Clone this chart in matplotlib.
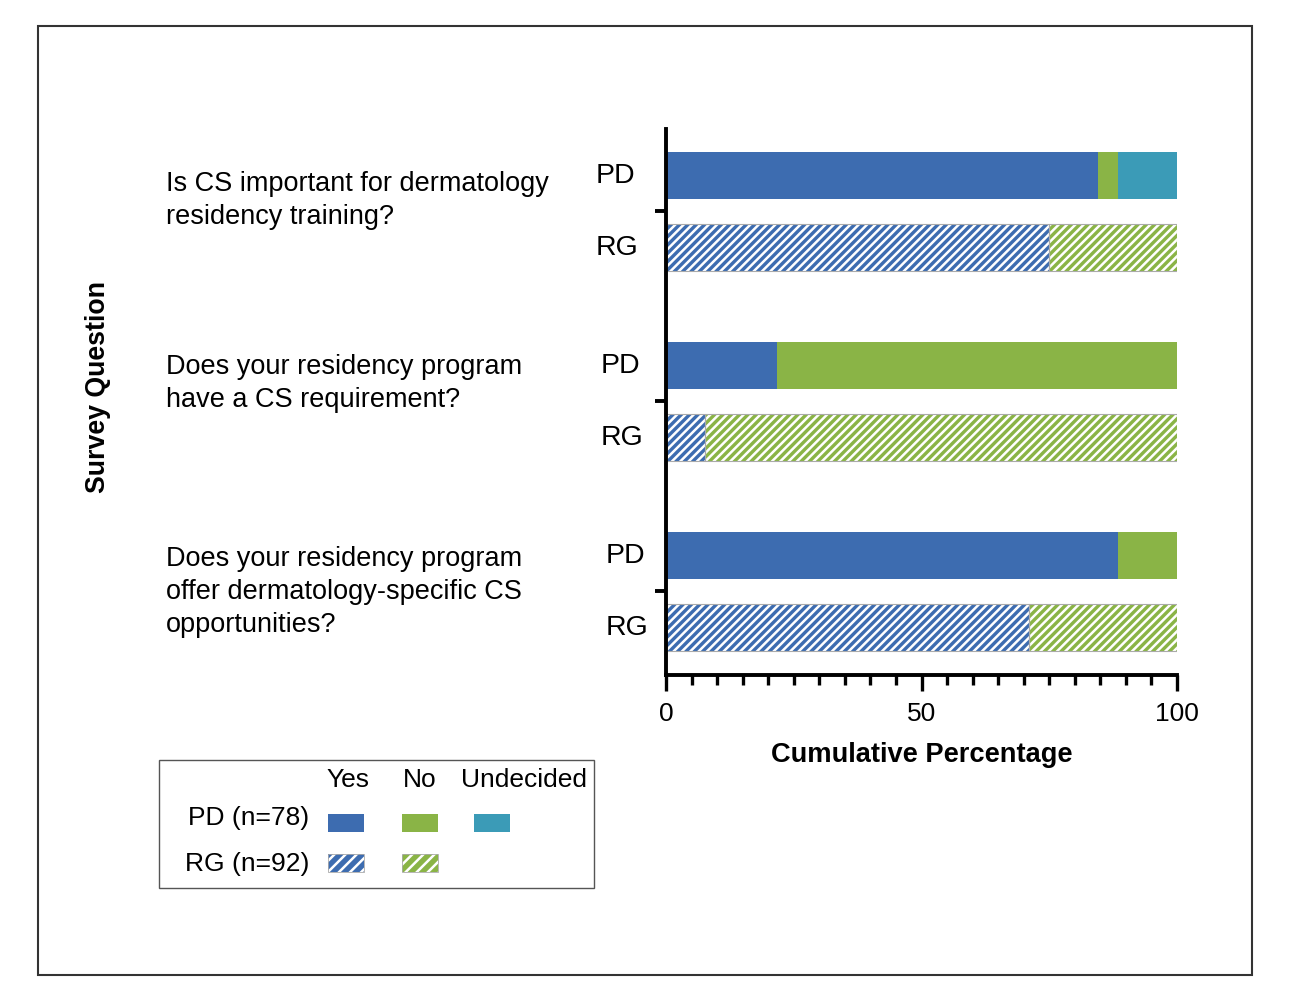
import matplotlib
matplotlib.use("Agg")
import matplotlib.pyplot as plt
from matplotlib.patches import Rectangle
from matplotlib.transforms import blended_transform_factory

plt.rcParams['font.family'] = ['Liberation Sans', 'DejaVu Sans']
plt.rcParams['hatch.color'] = 'white'
plt.rcParams['hatch.linewidth'] = 1.8

# ---- data ----
questions = [
    "Is CS important for dermatology\nresidency training?",
    "Does your residency program\nhave a CS requirement?",
    "Does your residency program\noffer dermatology-specific CS\nopportunities?",
]
groups = ["PD", "RG"]
legend_labels = ["PD (n=78)", "RG (n=92)"]
responses = ["Yes", "No", "Undecided"]
pd_yes = [84.6, 21.8, 88.5]
pd_no = [3.8, 78.2, 11.5]
pd_undecided = [11.6, 0.0, 0.0]
rg_yes = [75.0, 7.6, 71.1]
rg_no = [25.0, 92.4, 28.9]

BLUE = '#3d6cb0'
GREEN = '#8ab446'
TEAL = '#3b9bb7'
HATCH = '////'

W, H = 1293, 1004
fig = plt.figure(figsize=(W / 100, H / 100), dpi=100)

def fx(px):
    return px / W

def fy(py):
    return 1 - py / H

# outer frame
fig.patches.append(Rectangle((fx(38), fy(976)), fx(1252) - fx(38), fy(27) - fy(976),
                             transform=fig.transFigure, fill=False, edgecolor='#333333',
                             linewidth=1.5))

ax = fig.add_axes([fx(666), fy(676), fx(1177) - fx(666), fy(130) - fy(676)])

off = 72 / 190 / 2
bh = 47 / 190
centers = list(range(len(questions)))
pd_pos = [c - off for c in centers]
rg_pos = [c + off for c in centers]

# PD solid bars
ax.barh(pd_pos, pd_yes, height=bh, color=BLUE, linewidth=0)
ax.barh(pd_pos, pd_no, left=pd_yes, height=bh, color=GREEN, linewidth=0)
left3 = [a + b for a, b in zip(pd_yes, pd_no)]
ax.barh(pd_pos, pd_undecided, left=left3, height=bh, color=TEAL, linewidth=0)

# RG hatched bars
ax.barh(rg_pos, rg_yes, height=bh, color=BLUE, hatch=HATCH, edgecolor='white', linewidth=0)
ax.barh(rg_pos, rg_no, left=rg_yes, height=bh, color=GREEN, hatch=HATCH, edgecolor='white', linewidth=0)
ax.barh(rg_pos, rg_yes, height=bh, fill=False, edgecolor='#aaaaaa', linewidth=0.8)
ax.barh(rg_pos, rg_no, left=rg_yes, height=bh, fill=False, edgecolor='#aaaaaa', linewidth=0.8)

ax.set_xlim(0, 100)
ax.set_ylim(len(questions) - 1 + 0.442, -0.432)

for s in ['top', 'right']:
    ax.spines[s].set_visible(False)
for s in ['left', 'bottom']:
    ax.spines[s].set_linewidth(2.8)

ax.set_xticks([0, 50, 100])
ax.set_xticks(range(0, 101, 5), minor=True)
ax.tick_params(axis='x', which='major', length=11.5, width=2.4, labelsize=19, pad=7)
ax.tick_params(axis='x', which='minor', length=7.5, width=2.4)
ax.set_yticks(centers)
ax.set_yticklabels([])
ax.tick_params(axis='y', which='major', length=8, width=2.8)

ax.set_xlabel("Cumulative Percentage", fontsize=19.6, fontweight='bold', labelpad=12)

# PD / RG labels
label_x = [596, 601, 606]
btf = blended_transform_factory(fig.transFigure, ax.transData)
for i in range(len(questions)):
    for g, ypos in zip(groups, [pd_pos[i], rg_pos[i]]):
        ax.text(fx(label_x[i]), ypos, g, transform=btf,
                ha='left', va='center', fontsize=20.5)

# question texts
q_top = [171, 354, 546]
for q, t in zip(questions, q_top):
    fig.text(fx(166), fy(t), q, ha='left', va='top', fontsize=19.5, linespacing=1.36)

fig.text(fx(98), fy(387), "Survey Question", rotation=90, ha='center', va='center',
         fontsize=19.3, fontweight='bold')

# legend box
fig.patches.append(Rectangle((fx(159), fy(889)), fx(594) - fx(159), fy(761) - fy(889),
                             transform=fig.transFigure, fill=False, edgecolor='#555555',
                             linewidth=1.0))
col_x = [346, 420, 492]
head_x = [348, 420, 524]
for r, hx in zip(responses, head_x):
    fig.text(fx(hx), fy(780), r, ha='center', va='center', fontsize=19)
label_y = [818, 864]
row_y = [824, 864]
for lab, ly in zip(legend_labels, label_y):
    fig.text(fx(309), fy(ly), lab, ha='right', va='center', fontsize=19)
sw, sh = 36, 18
pd_cols = [BLUE, GREEN, TEAL]
for cx, c in zip(col_x, pd_cols):
    fig.patches.append(Rectangle((fx(cx - sw / 2), fy(row_y[0] + sh / 2)), sw / W, sh / H,
                                 transform=fig.transFigure, facecolor=c, linewidth=0))
for cx, c in zip(col_x[:2], pd_cols[:2]):
    fig.patches.append(Rectangle((fx(cx - sw / 2), fy(row_y[1] + sh / 2)), sw / W, sh / H,
                                 transform=fig.transFigure, facecolor=c, hatch='///',
                                 edgecolor='white', linewidth=0))
    fig.patches.append(Rectangle((fx(cx - sw / 2), fy(row_y[1] + sh / 2)), sw / W, sh / H,
                                 transform=fig.transFigure, fill=False,
                                 edgecolor='#aaaaaa', linewidth=0.6))

fig.savefig("out.png", dpi=100)
